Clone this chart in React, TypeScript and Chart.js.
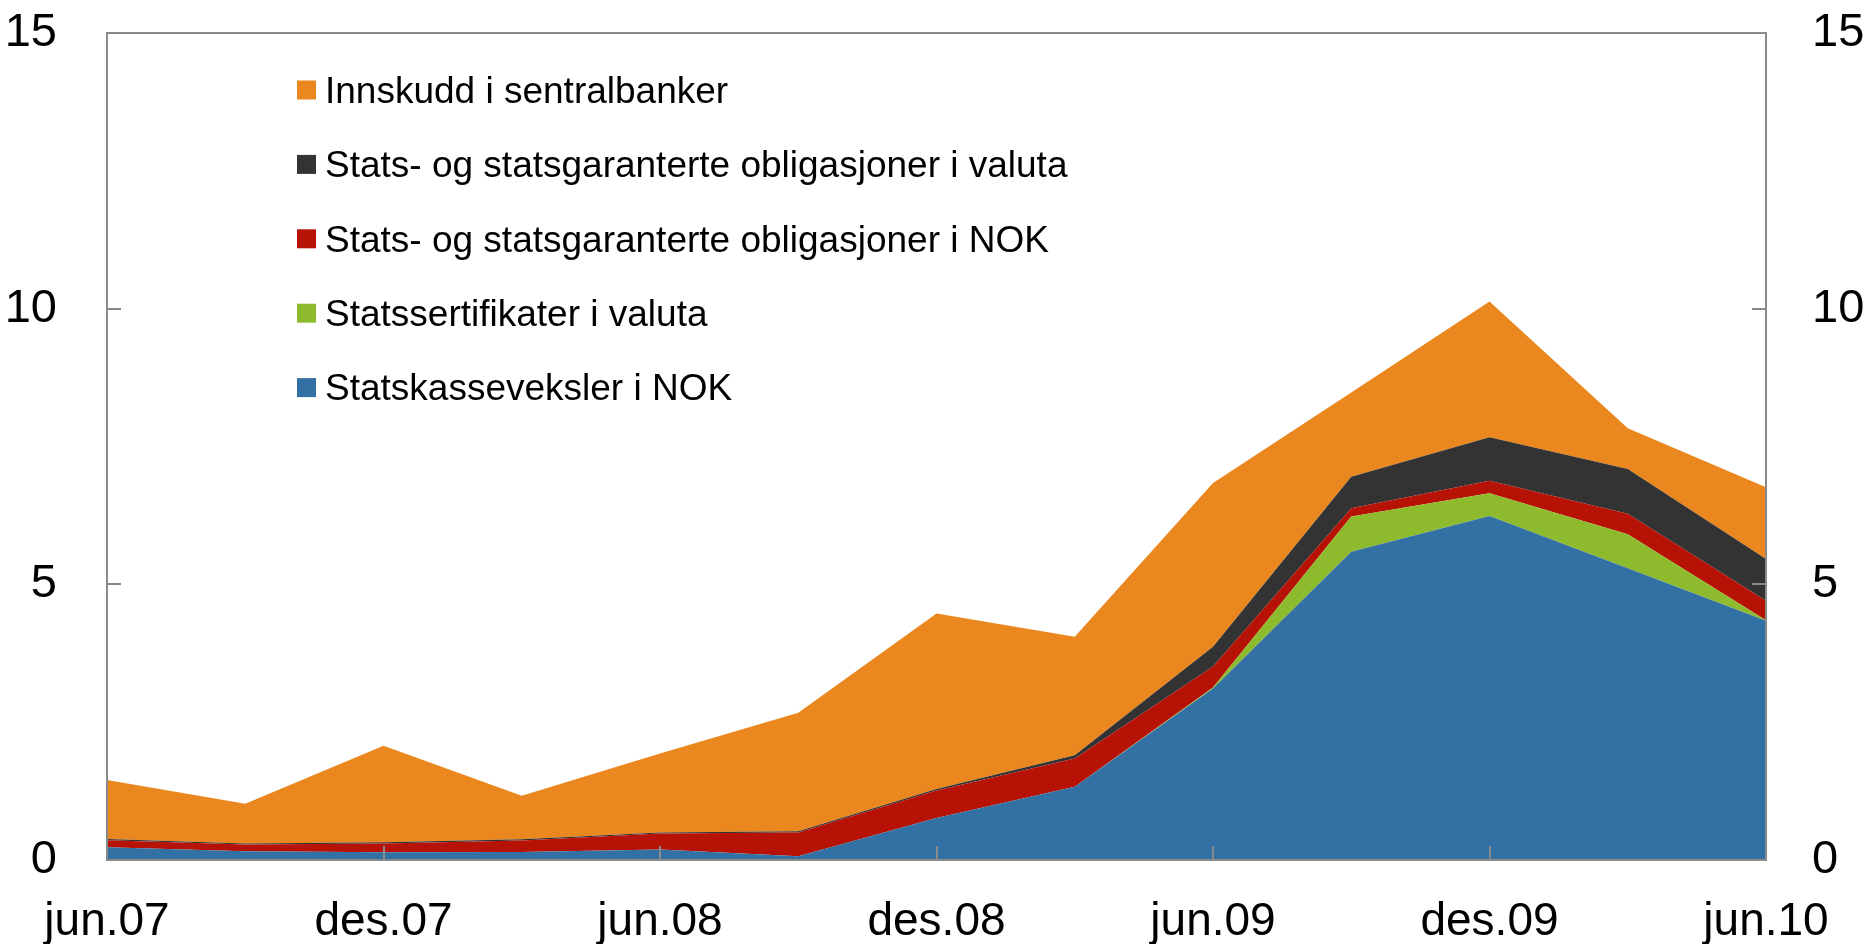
import React, { useEffect, useRef } from "react";
import { Chart, registerables } from "chart.js";

Chart.register(...registerables);

const categories = [
  "jun.07", "sep.07", "des.07", "mar.08", "jun.08", "sep.08", "des.08",
  "mar.09", "jun.09", "sep.09", "des.09", "mar.10", "jun.10",
];
const tickLabels = ["jun.07", "des.07", "jun.08", "des.08", "jun.09", "des.09", "jun.10"];
const yTickValues = [0, 5, 10, 15];

const statskasseveksler = [0.23, 0.16, 0.14, 0.145, 0.19, 0.07, 0.76, 1.33, 3.11, 5.59, 6.24, 5.29, 4.34];
const statssertifikater = [0, 0, 0, 0, 0, 0, 0, 0, 0.02, 0.64, 0.41, 0.62, 0.01];
const obligasjonerNOK = [0.13, 0.12, 0.16, 0.21, 0.29, 0.43, 0.5, 0.51, 0.38, 0.15, 0.23, 0.37, 0.35];
const obligasjonerValuta = [0.02, 0.02, 0.02, 0.02, 0.02, 0.02, 0.03, 0.06, 0.36, 0.57, 0.79, 0.81, 0.76];
const innskudd = [1.07, 0.72, 1.75, 0.79, 1.43, 2.15, 3.18, 2.15, 2.97, 1.53, 2.46, 0.74, 1.3];

const FONT = "'Liberation Sans', Arial, sans-serif";
const FRAME = "#8a8a8a";

export default function App() {
  const ref = useRef<HTMLCanvasElement | null>(null);

  useEffect(() => {
    document.body.style.margin = "0";
    document.body.style.overflow = "hidden";
    if (!ref.current) return;

    const framePlugin = {
      id: "frameTicks",
      afterDatasetsDraw(chart: any) {
        const { ctx, chartArea } = chart;
        const { left, right, top, bottom } = chartArea;
        const x = chart.scales.x;
        const y = chart.scales.y;
        ctx.save();
        ctx.strokeStyle = FRAME;
        ctx.lineWidth = 2;
        ctx.strokeRect(left, top, right - left, bottom - top);
        ctx.beginPath();
        yTickValues.forEach((v) => {
          if (v === 0 || v === 15) return;
          const py = Math.round(y.getPixelForValue(v));
          ctx.moveTo(left, py);
          ctx.lineTo(left + 14, py);
          ctx.moveTo(right, py);
          ctx.lineTo(right - 14, py);
        });
        tickLabels.forEach((lab) => {
          const idx = categories.indexOf(lab);
          if (idx <= 0 || idx >= categories.length - 1) return;
          const px = Math.round(x.getPixelForValue(idx));
          ctx.moveTo(px, bottom);
          ctx.lineTo(px, bottom - 14);
        });
        ctx.stroke();
        ctx.restore();
      },
    };

    const legendPlugin = {
      id: "insideLegend",
      afterDraw(chart: any) {
        const { ctx } = chart;
        const items = [...chart.data.datasets].reverse();
        ctx.save();
        ctx.font = `37px ${FONT}`;
        ctx.textBaseline = "alphabetic";
        ctx.textAlign = "left";
        items.forEach((ds: any, i: number) => {
          const cy = 90 + i * 74.4;
          ctx.fillStyle = ds.backgroundColor;
          ctx.fillRect(297, cy - 9.5, 19, 19);
          ctx.fillStyle = "#000";
          ctx.fillText(ds.label, 325, cy + 12.7);
        });
        ctx.restore();
      },
    };

    const mk = (label: string, data: number[], color: string, fill: any) => ({
      label,
      data,
      backgroundColor: color,
      borderColor: color,
      borderWidth: 0,
      pointRadius: 0,
      pointHoverRadius: 0,
      tension: 0,
      fill,
      yAxisID: "y",
    });

    const noPadY = (w: number) => (scale: any) => {
      scale.width = w;
      scale.paddingTop = 0;
      scale.paddingBottom = 0;
    };

    const chart = new Chart(ref.current, {
      type: "line",
      data: {
        labels: categories,
        datasets: [
          mk("Statskasseveksler i NOK", statskasseveksler, "#3371a5", "origin"),
          mk("Statssertifikater i valuta", statssertifikater, "#8ebb2e", "-1"),
          mk("Stats- og statsgaranterte obligasjoner i NOK", obligasjonerNOK, "#b61205", "-1"),
          mk("Stats- og statsgaranterte obligasjoner i valuta", obligasjonerValuta, "#333333", "-1"),
          mk("Innskudd i sentralbanker", innskudd, "#ea871e", "-1"),
        ] as any,
      },
      options: {
        animation: false,
        responsive: false,
        events: [],
        layout: { padding: { top: 33, left: 0, right: 0, bottom: 0 } },
        plugins: {
          legend: { display: false },
          tooltip: { enabled: false },
          filler: { propagate: false },
        },
        scales: {
          x: {
            type: "category",
            offset: false,
            grid: { display: false },
            border: { display: false },
            afterFit(scale: any) {
              scale.height = 84;
              scale.paddingLeft = 0;
              scale.paddingRight = 0;
            },
            ticks: {
              autoSkip: false,
              maxRotation: 0,
              minRotation: 0,
              padding: 27,
              color: "#000",
              font: { family: FONT, size: 46 },
              callback: (_v: any, idx: number) =>
                tickLabels.includes(categories[idx]) ? categories[idx] : "",
            },
          },
          y: {
            type: "linear",
            position: "left",
            stacked: true,
            min: 0,
            max: 15,
            grid: { display: false },
            border: { display: false },
            afterFit: noPadY(107),
            ticks: {
              stepSize: 5,
              padding: 42,
              color: "#000",
              font: { family: FONT, size: 47 },
            },
          },
          y2: {
            type: "linear",
            position: "right",
            min: 0,
            max: 15,
            grid: { display: false },
            border: { display: false },
            afterFit: noPadY(103),
            ticks: {
              stepSize: 5,
              padding: 38,
              color: "#000",
              font: { family: FONT, size: 47 },
            },
          },
        },
      } as any,
      plugins: [framePlugin, legendPlugin],
    });

    return () => chart.destroy();
  }, []);

  return (
    <div style={{ width: 1869, height: 944 }}>
      <canvas ref={ref} width={1869} height={944} style={{ display: "block" }} />
    </div>
  );
}
